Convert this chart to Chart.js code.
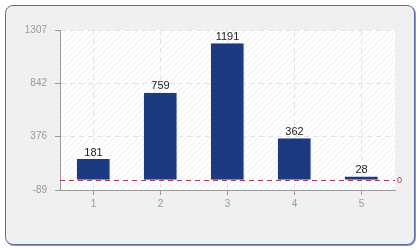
<!DOCTYPE html>
<html>
<head>
<meta charset="utf-8">
<script src="https://cdn.jsdelivr.net/npm/chart.js@4"></script>
<style>
  html, body { margin: 0; padding: 0; background: #ffffff; }
  #wrap { position: relative; width: 420px; height: 250px; }
  #panel {
    position: absolute; left: 5px; top: 5px; width: 408px; height: 238px;
    border: 1px solid #5b6ba6; border-radius: 8px; background: #f0f0f0;
    box-shadow: 1px 1px 0 #8a96c0;
  }
  #chart { position: absolute; left: 0; top: 0; }
</style>
</head>
<body>
<div id="wrap">
  <div id="panel"></div>
  <canvas id="chart" width="420" height="250"></canvas>
</div>
<script>
const categories = ['1', '2', '3', '4', '5'];
const values = [181, 759, 1191, 362, 28];
const yTicks = [-89, 376, 842, 1307];
const refValue = 0;

const FONT = 'Liberation Sans';

// light diagonal hatch behind the bars
function makeHatch() {
    const c = document.createElement('canvas');
    c.width = 6; c.height = 6;
    const g = c.getContext('2d');
    g.fillStyle = '#ffffff';
    g.fillRect(0, 0, 6, 6);
    g.strokeStyle = '#eeeeee';
    g.lineWidth = 1;
    g.beginPath();
    g.moveTo(0, 6); g.lineTo(6, 0);
    g.moveTo(-1, 1); g.lineTo(1, -1);
    g.moveTo(5, 7); g.lineTo(7, 5);
    g.stroke();
    return g.createPattern(c, 'repeat');
}

const areaBg = {
    id: 'areaBg',
    beforeDraw(chart) {
        const { ctx, chartArea: a } = chart;
        ctx.save();
        ctx.fillStyle = makeHatch();
        ctx.fillRect(a.left, a.top, a.right - a.left, a.bottom - a.top);
        ctx.restore();
    }
};

const refLine = {
    id: 'refLine',
    afterDatasetsDraw(chart) {
        const { ctx, chartArea: a } = chart;
        const y = Math.round(chart.scales.y.getPixelForValue(refValue)) + 0.5;
        ctx.save();
        ctx.strokeStyle = '#b03a55';
        ctx.lineWidth = 1;
        ctx.setLineDash([5, 4]);
        ctx.beginPath();
        ctx.moveTo(a.left, y);
        ctx.lineTo(a.right, y);
        ctx.stroke();
        ctx.fillStyle = '#b03a55';
        ctx.font = '9px ' + FONT;
        ctx.textAlign = 'left';
        ctx.textBaseline = 'middle';
        ctx.fillText(String(refValue), a.right + 2, y);
        ctx.restore();
    }
};

const valueLabels = {
    id: 'valueLabels',
    afterDatasetsDraw(chart) {
        const { ctx } = chart;
        const meta = chart.getDatasetMeta(0);
        ctx.save();
        ctx.fillStyle = '#222222';
        ctx.font = '11px ' + FONT;
        ctx.textAlign = 'center';
        ctx.textBaseline = 'bottom';
        meta.data.forEach((bar, i) => {
            ctx.fillText(String(values[i]), bar.x, bar.y - 1);
        });
        ctx.restore();
    }
};

const data = {
    labels: categories,
    datasets: [{
        data: values,
        backgroundColor: '#1b3a80',
        borderColor: '#7d8bb3',
        borderWidth: { right: 1 },
        borderSkipped: false,
        barPercentage: 0.5,
        categoryPercentage: 1
    }]
};

const config = {
    type: 'bar',
    data: data,
    options: {
        responsive: false,
        animation: false,
        layout: { padding: { top: 30, right: 25, left: 0, bottom: 0 } },
        plugins: {
            legend: { display: false },
            tooltip: { enabled: false }
        },
        scales: {
            x: {
                grid: { offset: false, color: '#e2e2e2', tickColor: '#999999', tickLength: 5 },
                border: { color: '#999999', dash: [5, 4] },
                ticks: { color: '#999999', font: { family: FONT, size: 10 }, padding: 3 },
                afterFit(s) { s.height = 60; }
            },
            y: {
                min: yTicks[0],
                max: yTicks[yTicks.length - 1],
                afterBuildTicks(s) { s.ticks = yTicks.map(v => ({ value: v })); },
                grid: { color: '#e2e2e2', tickColor: '#999999', tickLength: 5 },
                border: { color: '#999999', dash: [5, 4] },
                ticks: {
                    color: '#999999', font: { family: FONT, size: 10 }, padding: 8,
                    callback: (v) => String(v)
                },
                afterFit(s) { s.width = 60; }
            }
        }
    },
    plugins: [areaBg, refLine, valueLabels]
};

const myChart = new Chart(document.getElementById('chart'), config);
</script>
</body>
</html>
